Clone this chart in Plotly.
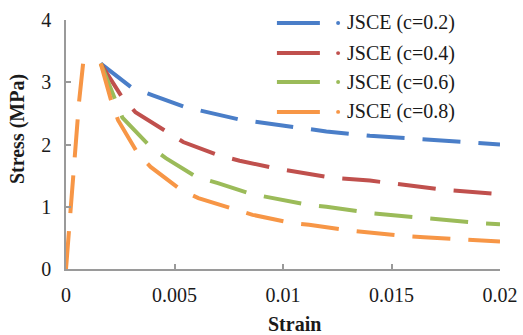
import plotly.graph_objects as go

# Softening branches (strain, stress in MPa) for each JSCE c-value
strain_c02 = [0.0016, 0.0030, 0.0040, 0.0055, 0.0080, 0.0100, 0.0120, 0.0140, 0.0160, 0.0180, 0.0200]
stress_c02 = [3.30, 2.92, 2.79, 2.60, 2.40, 2.30, 2.21, 2.14, 2.09, 2.04, 2.00]

strain_c04 = [0.0016, 0.0026, 0.0032, 0.0047, 0.0054, 0.0070, 0.0080, 0.0096, 0.0105, 0.0122, 0.0140, 0.0157, 0.0175, 0.0200]
stress_c04 = [3.30, 2.75, 2.52, 2.18, 2.04, 1.83, 1.74, 1.62, 1.57, 1.47, 1.42, 1.34, 1.27, 1.20]

strain_c06 = [0.0016, 0.0023, 0.0026, 0.0039, 0.0046, 0.0060, 0.0070, 0.0086, 0.0095, 0.0112, 0.0120, 0.0140, 0.0165, 0.0173, 0.0190, 0.0200]
stress_c06 = [3.30, 2.70, 2.43, 1.96, 1.78, 1.48, 1.38, 1.20, 1.14, 1.03, 1.00, 0.90, 0.82, 0.79, 0.74, 0.72]

strain_c08 = [0.0016, 0.0021, 0.0024, 0.0033, 0.0039, 0.0053, 0.0061, 0.0078, 0.0086, 0.0104, 0.0112, 0.0130, 0.0140, 0.0156, 0.0165, 0.0183, 0.0200]
stress_c08 = [3.30, 2.68, 2.39, 1.86, 1.64, 1.27, 1.14, 0.95, 0.87, 0.74, 0.71, 0.62, 0.58, 0.53, 0.51, 0.48, 0.44]

# Ascending (pre-peak) branch
strain_up = [0.0, 0.0002, 0.0004, 0.0006, 0.0008]
stress_up = [0.0, 0.95, 1.88, 2.68, 3.34]

series_names = ["JSCE (c=0.2)", "JSCE (c=0.4)", "JSCE (c=0.6)", "JSCE (c=0.8)"]
series_colors = ["#4A7EC8", "#C0504D", "#9BBB59", "#F79646"]

x_ticks = [0, 0.005, 0.01, 0.015, 0.02]
x_ticklabels = ["0", "0.005", "0.01", "0.015", "0.02"]
y_ticks = [0, 1, 2, 3, 4]

FONT = "Liberation Serif"
TEXT = "#1a1a1a"
AXIS = "#9a9a9a"
DASH = "38px,18px"
LW = 4

fig = go.Figure()

curves = [(strain_c02, stress_c02), (strain_c04, stress_c04),
          (strain_c06, stress_c06), (strain_c08, stress_c08)]
for (xs, ys), name, color in zip(curves, series_names, series_colors):
    fig.add_trace(go.Scatter(x=xs, y=ys, mode="lines", name=name,
                             line=dict(color=color, width=LW, dash=DASH),
                             showlegend=False))

fig.add_trace(go.Scatter(x=strain_up, y=stress_up, mode="lines",
                         line=dict(color=series_colors[3], width=LW, dash=DASH),
                         showlegend=False))

# Hand-placed legend: line sample, small dot, label
legend_y = [0.988, 0.867, 0.751, 0.631]
shapes = []
annotations = []
for name, color, ly in zip(series_names, series_colors, legend_y):
    shapes.append(dict(type="line", xref="paper", yref="paper",
                       x0=0.486, x1=0.585, y0=ly, y1=ly,
                       line=dict(color=color, width=LW)))
    shapes.append(dict(type="circle", xref="paper", yref="paper",
                       x0=0.627 - 0.0046, x1=0.627 + 0.0046,
                       y0=ly - 0.008, y1=ly + 0.008,
                       fillcolor=color, line=dict(width=0)))
    annotations.append(dict(text=name, xref="paper", yref="paper",
                            x=0.643, y=ly, xanchor="left", yanchor="middle",
                            showarrow=False,
                            font=dict(family=FONT, size=20, color=TEXT)))

# Axis titles
annotations.append(dict(text="<b>Strain</b>", xref="paper", yref="paper",
                        x=0.5276, y=-0.222, xanchor="center", yanchor="middle",
                        showarrow=False, font=dict(family=FONT, size=20, color=TEXT)))
annotations.append(dict(text="<b>Stress (MPa)</b>", xref="paper", yref="paper",
                        x=-0.1129, y=0.562, xanchor="center", yanchor="middle",
                        textangle=-90, showarrow=False,
                        font=dict(family=FONT, size=20, color=TEXT)))

fig.update_layout(
    width=523, height=335,
    margin=dict(l=66, r=23, t=20, b=66),
    paper_bgcolor="white", plot_bgcolor="white",
    font=dict(family=FONT, size=20, color=TEXT),
    shapes=shapes, annotations=annotations,
    showlegend=False,
)

fig.update_xaxes(
    range=[0, 0.02], tickvals=x_ticks, ticktext=x_ticklabels,
    showgrid=False, zeroline=False, automargin=False,
    showline=True, linecolor=AXIS, linewidth=1.5,
    ticks="inside", ticklen=5, tickcolor=AXIS, tickwidth=1.5,
    ticklabelstandoff=7,
    tickfont=dict(family=FONT, size=20, color=TEXT),
)

fig.update_yaxes(
    range=[0, 4], tickvals=y_ticks,
    showgrid=False, zeroline=False, automargin=False,
    showline=True, linecolor=AXIS, linewidth=1.5,
    ticks="inside", ticklen=5, tickcolor=AXIS, tickwidth=1.5,
    ticklabelstandoff=9,
    tickfont=dict(family=FONT, size=20, color=TEXT),
)

fig.write_html("out.html")
